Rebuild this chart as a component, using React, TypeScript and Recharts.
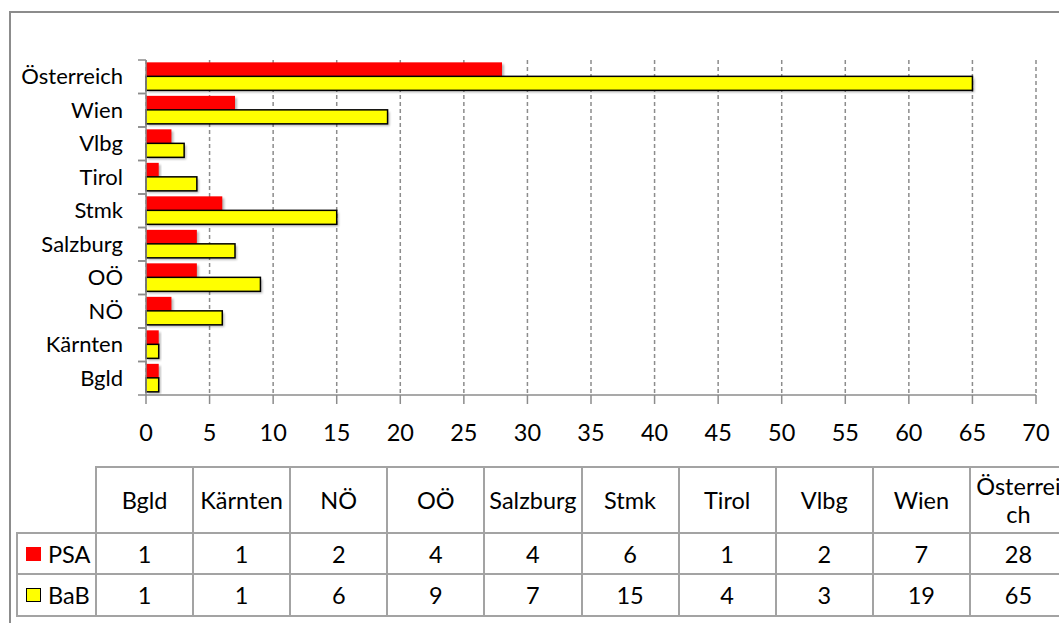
import React from 'react';
import { BarChart, Bar, XAxis, YAxis, CartesianGrid } from 'recharts';

const categories = ['Bgld', 'Kärnten', 'NÖ', 'OÖ', 'Salzburg', 'Stmk', 'Tirol', 'Vlbg', 'Wien', 'Österreich'];
const psaValues = [1, 1, 2, 4, 4, 6, 1, 2, 7, 28];
const babValues = [1, 1, 6, 9, 7, 15, 4, 3, 19, 65];
const xTicks = [0, 5, 10, 15, 20, 25, 30, 35, 40, 45, 50, 55, 60, 65, 70];
const seriesNames = ['PSA', 'BaB'];
const seriesColors = ['#ff0000', '#ffff00'];

const data = categories.map((name, i) => ({ name, PSA: psaValues[i], BaB: babValues[i] }));

const FONT = 'Lato, "Open Sans", sans-serif';
const GRID = '#8c8c8c';
const TABLE_LINE = '#a3a3a3';

const ShadowBar = (props: any) => {
  const { x, y, width, height, fill, stroke } = props;
  if (width <= 0) return null;
  return (
    <g>
      <rect x={x + 2} y={y + 2} width={width} height={height} fill="#000" opacity={0.28} filter="url(#barShadow)" />
      <rect x={x} y={y} width={width} height={height} fill={fill} stroke={stroke || 'none'} strokeWidth={stroke ? 1.5 : 0} />
    </g>
  );
};

const YTick = (props: any) => {
  const { x, y, payload } = props;
  const off = payload.offset || 0;
  return (
    <g>
      <line x1={x + 15} x2={x + 23} y1={y - off} y2={y - off} stroke={GRID} strokeWidth={1.5} />
      <line x1={x + 15} x2={x + 23} y1={y + off} y2={y + off} stroke={GRID} strokeWidth={1.5} />
      <text x={x} y={y} dy="0.35em" textAnchor="end" fontFamily={FONT} fontSize={22} fill="#000">
        {payload.value}
      </text>
    </g>
  );
};

const TABLE_LEFT = 96;
const COL_W = 97.1;
const LEG_LEFT = 17;
const ROW_Y = [467, 533, 574, 616];

export default function App() {
  const hLines = ROW_Y.map((y, i) => (
    <div key={'h' + i} style={{ position: 'absolute', left: i === 0 ? TABLE_LEFT - 1 : LEG_LEFT - 1, top: y - 1, width: 1100, height: 2, background: TABLE_LINE }} />
  ));
  const vLines = [] as any[];
  vLines.push(<div key="vleg" style={{ position: 'absolute', left: LEG_LEFT - 1, top: ROW_Y[1] - 1, width: 2, height: ROW_Y[3] - ROW_Y[1] + 2, background: TABLE_LINE }} />);
  for (let i = 0; i <= categories.length; i++) {
    vLines.push(<div key={'v' + i} style={{ position: 'absolute', left: TABLE_LEFT + i * COL_W - 1, top: ROW_Y[0] - 1, width: 2, height: ROW_Y[3] - ROW_Y[0] + 2, background: TABLE_LINE }} />);
  }
  const cellStyle = (left: number, top: number, w: number, h: number): React.CSSProperties => ({
    position: 'absolute', left, top, width: w, height: h, display: 'flex', alignItems: 'center', justifyContent: 'center',
    fontFamily: FONT, fontSize: 23.5, color: '#000', textAlign: 'center', lineHeight: '28px',
  });
  const series = [psaValues, babValues];
  return (
    <div style={{ position: 'fixed', left: 0, top: 0, width: 1059, height: 623, background: '#fff', overflow: 'hidden' }}>
      <div style={{ position: 'absolute', left: 9, top: 11, width: 1200, height: 620, border: '2px solid #8c8c8c', boxSizing: 'border-box' }} />
      <div style={{ position: 'absolute', left: 0, top: 0 }}>
        <BarChart width={1059} height={623} data={data} layout="vertical" margin={{ top: 60, right: 23, bottom: 168, left: 10 }} barCategoryGap="7%" barGap={0}>
          <defs>
            <filter id="barShadow" x="-10%" y="-50%" width="120%" height="200%">
              <feGaussianBlur stdDeviation="1.3" />
            </filter>
          </defs>
          <CartesianGrid horizontal={false} vertical={true} stroke={GRID} strokeWidth={1.5} strokeDasharray="4 3" />
          <XAxis type="number" domain={[0, 70]} ticks={xTicks} interval={0} height={60} tickSize={9} tickMargin={20}
            stroke={GRID} strokeWidth={1.5} tick={{ fontFamily: FONT, fontSize: 23.5, fill: '#000' }} />
          <YAxis type="category" dataKey="name" reversed width={136} tickSize={8} tickMargin={15} tickLine={false}
            stroke={GRID} strokeWidth={1.5} tick={<YTick />} interval={0} />
          <Bar dataKey="PSA" fill={seriesColors[0]} isAnimationActive={false} shape={<ShadowBar />} />
          <Bar dataKey="BaB" fill={seriesColors[1]} stroke="#000" isAnimationActive={false} shape={<ShadowBar stroke="#000" />} />
        </BarChart>
      </div>
      {hLines}
      {vLines}
      {categories.map((c, i) => (
        <div key={'hc' + i} style={cellStyle(TABLE_LEFT + i * COL_W, ROW_Y[0], COL_W, ROW_Y[1] - ROW_Y[0])}>
          <span style={{ display: 'block', width: c.length > 9 ? 90 : undefined, wordBreak: 'break-all', whiteSpace: c.length > 9 ? 'normal' : 'nowrap' }}>{c}</span>
        </div>
      ))}
      {series.map((vals, r) => (
        <React.Fragment key={'r' + r}>
          <div style={{ ...cellStyle(LEG_LEFT, ROW_Y[r + 1], TABLE_LEFT - LEG_LEFT, ROW_Y[r + 2] - ROW_Y[r + 1]), justifyContent: 'flex-start' }}>
            <span style={{ display: 'inline-block', width: r === 1 ? 13 : 15, height: r === 1 ? 12 : 14, marginLeft: 9, marginRight: 7, background: seriesColors[r], border: r === 1 ? '1px solid #000' : 'none' }} />
            <span>{seriesNames[r]}</span>
          </div>
          {vals.map((v, i) => (
            <div key={'c' + r + '-' + i} style={cellStyle(TABLE_LEFT + i * COL_W, ROW_Y[r + 1], COL_W, ROW_Y[r + 2] - ROW_Y[r + 1])}>{v}</div>
          ))}
        </React.Fragment>
      ))}
    </div>
  );
}
